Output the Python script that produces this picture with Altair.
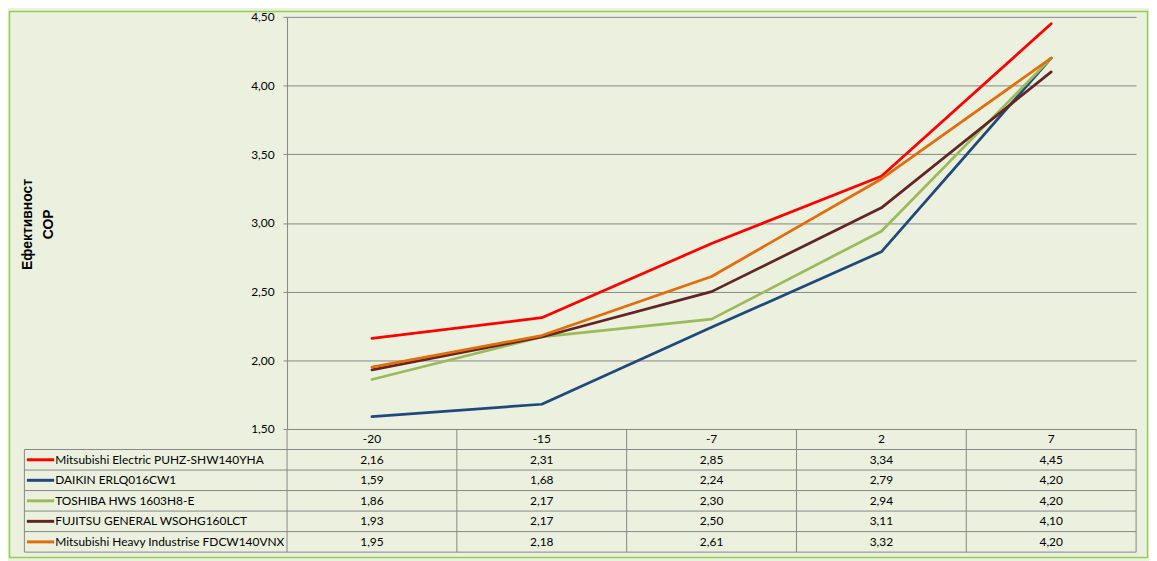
import altair as alt
import pandas as pd

categories = ["-20", "-15", "-7", "2", "7"]
series = [
    "Mitsubishi Electric PUHZ-SHW140YHA",
    "DAIKIN ERLQ016CW1",
    "TOSHIBA HWS 1603H8-E",
    "FUJITSU GENERAL WSOHG160LCT",
    "Mitsubishi Heavy Industrise FDCW140VNX",
]
colors = ["#FF0000", "#1F497D", "#9BBB59", "#632523", "#E46C0A"]
mitsubishi_electric = [2.16, 2.31, 2.85, 3.34, 4.45]
daikin = [1.59, 1.68, 2.24, 2.79, 4.20]
toshiba = [1.86, 2.17, 2.30, 2.94, 4.20]
fujitsu = [1.93, 2.17, 2.50, 3.11, 4.10]
mitsubishi_heavy = [1.95, 2.18, 2.61, 3.32, 4.20]
y_ticks = [1.5, 2.0, 2.5, 3.0, 3.5, 4.0, 4.5]
y_title = ["Ефективност", "СОР"]
HDR = "__header__"

all_values = [mitsubishi_electric, daikin, toshiba, fujitsu, mitsubishi_heavy]
rows = []
for s, vals in zip(series, all_values):
    for c, v in zip(categories, vals):
        rows.append({"series": s, "cat": c, "cop": v,
                     "label": f"{v:.2f}".replace(".", ",")})
df = pd.DataFrame(rows)
df_series = pd.DataFrame({"series": series})
df_cats = pd.DataFrame({"cat": categories, "row": [HDR] * len(categories)})
df_rows = pd.DataFrame({"row": [HDR] + series})

W, H = 855, 415
TABLE_H = 124
row_domain = [HDR] + series
row_step = TABLE_H / len(row_domain)
col_step = W / len(categories)
GRID = "#868686"
FONT = "Lato"
FS = 12
TABLE_LEFT = -264.5

xscale = alt.Scale(type="point", domain=categories, padding=0.5)
rowscale = alt.Scale(type="point", domain=row_domain, range=[H, H + TABLE_H], padding=0.5)
color_scale = alt.Scale(domain=series, range=colors)

lines = alt.Chart(df).mark_line(strokeWidth=2.75, strokeCap="round", strokeJoin="round").encode(
    x=alt.X("cat:N", scale=xscale, axis=None),
    y=alt.Y("cop:Q", scale=alt.Scale(domain=[1.5, 4.5], nice=False, zero=False),
            axis=alt.Axis(values=y_ticks,
                          labelExpr="replace(format(datum.value, '.2f'), '.', ',')",
                          grid=True, gridColor=GRID, gridWidth=1,
                          domainColor=GRID, tickColor=GRID, tickSize=4,
                          labelPadding=9, labelFont=FONT, labelFontSize=FS,
                          labelColor="#000000",
                          title=y_title, titleFont="Liberation Sans", titleFontSize=14,
                          titleFontWeight="bold", titleColor="#000000",
                          titleAngle=-90, titleX=-261, titleY=H / 2 + 1,
                          titleAlign="center", titleBaseline="middle",
                          titleLineHeight=20.5)),
    color=alt.Color("series:N", scale=color_scale, legend=None),
)

top = alt.layer(lines)

header_text = alt.Chart(df_cats).mark_text(font=FONT, fontSize=FS, color="#000000").encode(
    x=alt.X("cat:N", scale=xscale, axis=None),
    y=alt.Y("row:N", scale=rowscale, axis=None),
    text="cat:N",
)
value_text = alt.Chart(df).mark_text(font=FONT, fontSize=FS, color="#000000").encode(
    x=alt.X("cat:N", scale=xscale, axis=None),
    y=alt.Y("series:N", scale=rowscale, axis=None),
    text="label:N",
)
label_text = alt.Chart(df_series).mark_text(font=FONT, fontSize=FS, color="#000000", align="left").encode(
    x=alt.value(TABLE_LEFT + 31),
    y=alt.Y("series:N", scale=rowscale, axis=None),
    text="series:N",
)
swatch = alt.Chart(df_series).mark_rule(strokeWidth=3).encode(
    x=alt.value(TABLE_LEFT + 2.5),
    x2=alt.value(TABLE_LEFT + 30),
    y=alt.Y("series:N", scale=rowscale, axis=None),
    color=alt.Color("series:N", scale=color_scale, legend=None),
)
hlines = alt.Chart(df_rows).mark_rule(color=GRID, strokeWidth=1, yOffset=row_step / 2).encode(
    x=alt.value(TABLE_LEFT),
    x2=alt.value(W),
    y=alt.Y("row:N", scale=rowscale, axis=None),
)
vlines = alt.Chart(df_cats).mark_rule(color=GRID, strokeWidth=1, xOffset=-col_step / 2,
                                      yOffset=-row_step / 2, y2Offset=row_step / 2).encode(
    x=alt.X("cat:N", scale=xscale, axis=None),
    y=alt.Y("row:N", scale=rowscale, axis=None),
    y2=alt.datum(series[-1]),
)
vline_right = alt.Chart(df_cats.tail(1)).mark_rule(color=GRID, strokeWidth=1, xOffset=col_step / 2,
                                                   yOffset=-row_step / 2, y2Offset=row_step / 2).encode(
    x=alt.X("cat:N", scale=xscale, axis=None),
    y=alt.Y("row:N", scale=rowscale, axis=None),
    y2=alt.datum(series[-1]),
)
vline_left = alt.Chart(df_series.head(1)).mark_rule(color=GRID, strokeWidth=1,
                                                    yOffset=-row_step / 2, y2Offset=row_step / 2).encode(
    x=alt.value(TABLE_LEFT),
    y=alt.Y("series:N", scale=rowscale, axis=None),
    y2=alt.datum(series[-1]),
)
border = alt.Chart(df_series.head(1)).mark_rect(fillOpacity=0, stroke="#92D050", strokeWidth=1.5).encode(
    x=alt.value(-279.5), x2=alt.value(866.5),
    y=alt.value(-5.5), y2=alt.value(544.5),
)

table = alt.layer(hlines, vlines, vline_right, vline_left, swatch, label_text, header_text, value_text, border)

chart = alt.layer(top, table).resolve_scale(y="independent").properties(
    width=W, height=H, padding=0, background="#EBF1DE"
).configure_view(stroke=None)

chart.save("out.html", embed_options={"renderer": "svg", "actions": False})
